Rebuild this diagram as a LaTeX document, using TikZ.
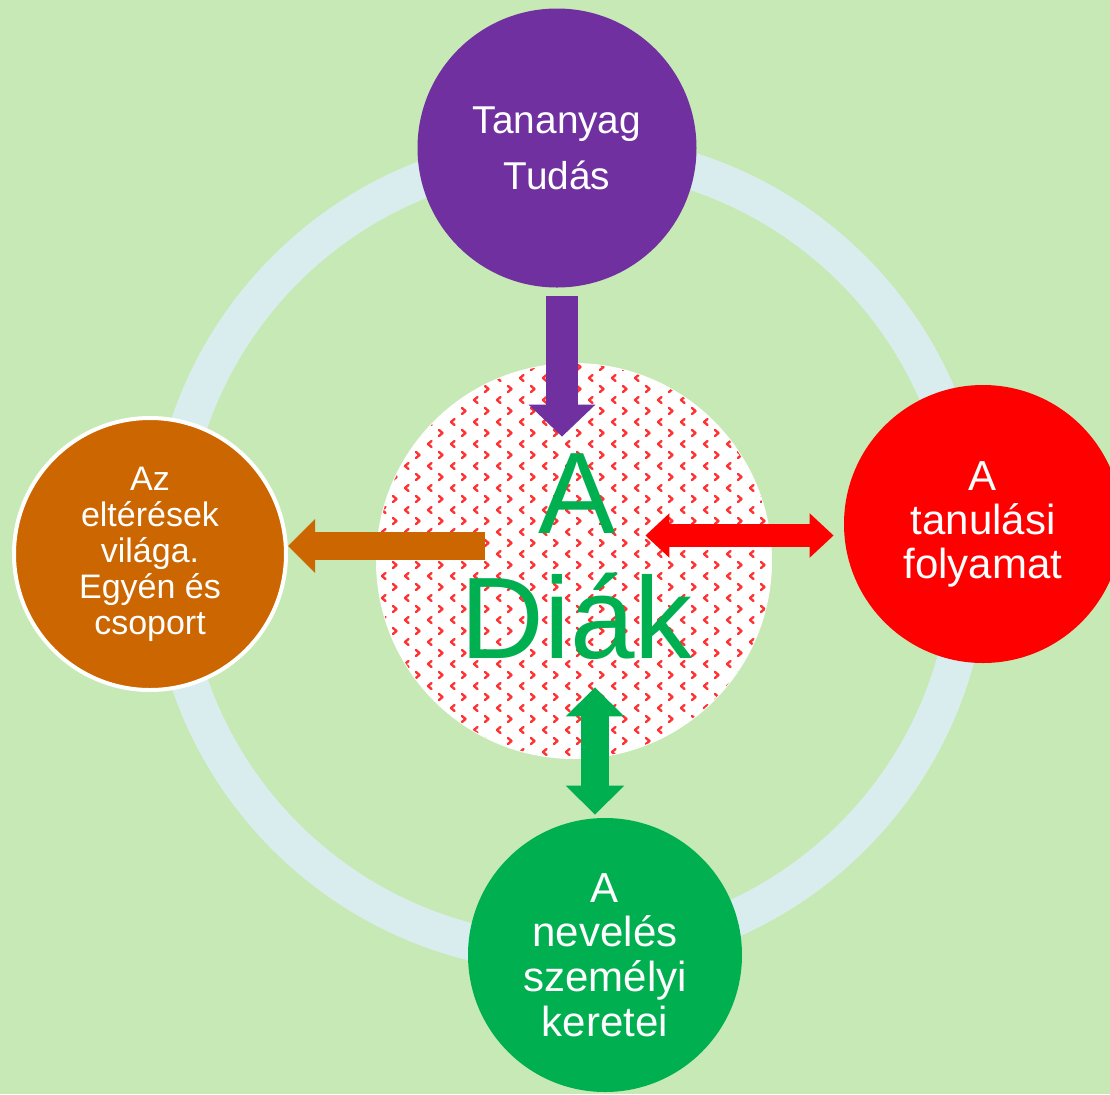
\documentclass[tikz,border=0pt]{standalone}
\usepackage{fontspec}
\setmainfont{Liberation Sans}
\usepackage{tikz}
\usetikzlibrary{arrows.meta}

\definecolor{bggreen}{HTML}{C6E9B5}
\definecolor{ringblue}{HTML}{DAEDEE}
\definecolor{tpurple}{HTML}{7030A0}
\definecolor{torange}{HTML}{CC6600}
\definecolor{tred}{HTML}{FF0000}
\definecolor{tgreen}{HTML}{00B050}

\tikzset{bubble/.style={circle,inner sep=0pt,text=white,align=center}}
\tikzset{dotmark/.style={red!80,line width=1.2pt,line cap=round,line join=round}}
\tikzset{purplearrow/.style={tpurple,line width=16pt,-{Triangle[width=32.5pt,length=16pt]}}}
\tikzset{orangearrow/.style={torange,line width=14pt,-{Triangle[width=26pt,length=13.5pt]}}}
\tikzset{redarrow/.style={tred,line width=11.5pt,{Triangle[width=21.5pt,length=12pt]}-{Triangle[width=21.5pt,length=12pt]}}}
\tikzset{greenarrow/.style={tgreen,line width=14pt,{Triangle[width=28.5pt,length=14.5pt]}-{Triangle[width=28.5pt,length=14.5pt]}}}

\begin{document}
\begin{tikzpicture}[x=0.5pt,y=-0.5pt]
    % background
    \useasboundingbox (0,0) rectangle (1110,1094);
    \fill[bggreen] (0,0) rectangle (1110,1094);
    \clip (0,0) rectangle (1110,1094);

    % ring
    \coordinate (hub) at (569,553);
    \draw[ringblue, line width=18.5pt] (hub) circle [radius=401];

    % student circle with dotted fill
    \node[circle, fill=white, minimum size=198pt, inner sep=0pt] (diak) at (574,561) {};
    \begin{scope}
      \clip (diak.center) circle [radius=197];
      \foreach \j in {0,...,36} {
        \foreach \i in {0,...,18} {
          \pgfmathsetmacro\yy{367+11*\j}
          \pgfmathsetmacro\xx{372+23*\i+11.5*mod(\j,2)}
          \ifodd\j
            \draw[dotmark] (\xx+2,\yy-3) -- (\xx-1.5,\yy) -- (\xx+2,\yy+3);
          \else
            \draw[dotmark] (\xx-2,\yy-3) -- (\xx+1.5,\yy) -- (\xx-2,\yy+3);
          \fi
        }
      }
    \end{scope}
    \node[tgreen, align=center, font=\fontsize{58}{62.5}\selectfont] (diaktext) at (577,557) {A\\Diák};

    % outer circles
    \node[bubble, fill=tpurple, minimum size=139.5pt, font=\fontsize{19.4}{28}\selectfont] (tananyag) at (557,148) {Tananyag\\Tudás};
    \node[bubble, fill=torange, draw=white, line width=2pt, minimum size=136pt, font=\fontsize{17}{18}\selectfont] (elteres) at (150,554) {Az\\eltérések\\világa.\\Egyén és\\csoport};
    \node[bubble, fill=tred, minimum size=139pt, font=\fontsize{21}{22}\selectfont] (tanulas) at (983,524) {A\\tanulási\\folyamat};
    \node[bubble, fill=tgreen, minimum size=137pt, font=\fontsize{21}{22.3}\selectfont] (neveles) at (605,955) {A\\nevelés\\személyi\\keretei};

    % arrows
    \draw[purplearrow] ([xshift=2.5pt,yshift=-4pt]tananyag.south) -- ([xshift=2.5pt,yshift=-37pt]tananyag.south |- diak.north);
    \draw[orangearrow] ([xshift=54.5pt,yshift=4pt]diak.west |- elteres.east) -- ([yshift=4pt]elteres.east);
    \draw[redarrow] ([xshift=-63.5pt,yshift=-5.75pt]diak.east |- tanulas.west) -- ([xshift=-5pt,yshift=-5.75pt]tanulas.west);
    \draw[greenarrow] ([xshift=-5pt,yshift=36pt]neveles.north |- diak.south) -- ([xshift=-5pt,yshift=1.5pt]neveles.north);
\end{tikzpicture}
\end{document}
